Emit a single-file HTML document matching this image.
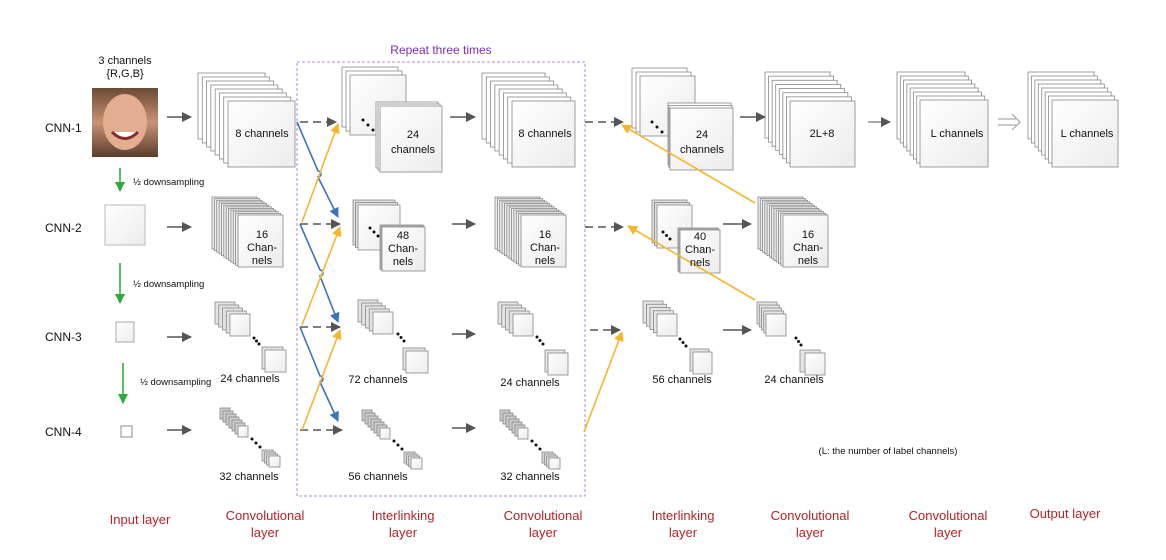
<!DOCTYPE html>
<html><head><meta charset="utf-8"><style>
body{margin:0;background:#fff}
svg{display:block}
text{font-family:"Liberation Sans",sans-serif;fill:#111}
.s{font-size:11px}
.r{fill:#b4232a;font-size:13px}
</style></head><body>
<svg id="v" width="1166" height="560" viewBox="0 0 1166 560" xmlns="http://www.w3.org/2000/svg">
<defs>
<linearGradient id="g" x1="0" y1="0" x2="1" y2="1"><stop offset="0" stop-color="#fff"/><stop offset="1" stop-color="#ececec"/></linearGradient>
<linearGradient id="face" x1="0" y1="0" x2="0" y2="1"><stop offset="0" stop-color="#6b4a34"/><stop offset="0.5" stop-color="#c89277"/><stop offset="1" stop-color="#5a3d2c"/></linearGradient>
<marker id="ag" markerWidth="10" markerHeight="10" refX="9" refY="5" orient="auto" markerUnits="userSpaceOnUse"><path d="M0,0 L10,5 L0,10 z" fill="#555"/></marker>
<marker id="ab" markerWidth="10" markerHeight="10" refX="9" refY="5" orient="auto" markerUnits="userSpaceOnUse"><path d="M0,0 L10,5 L0,10 z" fill="#3a74c0"/></marker>
<marker id="ao" markerWidth="10" markerHeight="10" refX="9" refY="5" orient="auto" markerUnits="userSpaceOnUse"><path d="M0,0 L10,5 L0,10 z" fill="#f7b52b"/></marker>
<marker id="agr" markerWidth="10" markerHeight="10" refX="9" refY="5" orient="auto" markerUnits="userSpaceOnUse"><path d="M0,0 L10,5 L0,10 z" fill="#2eab3a"/></marker>
</defs>
<g id="stacks"></g>

<rect x="92" y="88" width="66" height="69" fill="url(#face)"/>
<ellipse cx="125" cy="122" rx="22" ry="28" fill="#e3ad92"/>
<path d="M112,132 Q125,145 138,132" stroke="#8a2a2a" stroke-width="3" fill="#fff"/>
<text x="125" y="64" class="s" text-anchor="middle">3 channels</text>
<text x="125" y="77" class="s" text-anchor="middle">{R,G,B}</text>

<rect x="105" y="205" width="40" height="40" fill="url(#g)" stroke="#bbb"/>
<rect x="116" y="322" width="18" height="20" fill="url(#g)" stroke="#aaa"/>
<rect x="121" y="426" width="11" height="11" fill="#fff" stroke="#888"/>

<text x="45" y="132" font-size="12">CNN-1</text>
<text x="45" y="232" font-size="12">CNN-2</text>
<text x="45" y="341" font-size="12">CNN-3</text>
<text x="45" y="436" font-size="12">CNN-4</text>

<g stroke="#2eab3a" stroke-width="1.6" marker-end="url(#agr)">
<line x1="120" y1="168" x2="120" y2="191"/>
<line x1="120" y1="263" x2="120" y2="303"/>
<line x1="123" y1="363" x2="123" y2="403"/>
</g>
<text x="133" y="185" font-size="9.5">½ downsampling</text>
<text x="133" y="287" font-size="9.5">½ downsampling</text>
<text x="140" y="385" font-size="9.5">½ downsampling</text>

<rect x="297" y="62" width="288" height="434" fill="none" stroke="#b58ad6" stroke-dasharray="3,2"/>
<text x="441" y="54" font-size="12" text-anchor="middle" style="fill:#7a2fb0">Repeat three times</text>

<g stroke="#555" stroke-width="1.6" fill="none" marker-end="url(#ag)">
<line x1="167" y1="117" x2="191" y2="117"/>
<line x1="167" y1="227" x2="191" y2="227"/>
<line x1="167" y1="337" x2="191" y2="337"/>
<line x1="167" y1="430" x2="191" y2="430"/>
<line x1="450" y1="117" x2="475" y2="117"/>
<line x1="452" y1="224" x2="475" y2="224"/>
<line x1="452" y1="334" x2="475" y2="334"/>
<line x1="452" y1="428" x2="475" y2="428"/>
<line x1="740" y1="117" x2="765" y2="117"/>
<line x1="723" y1="224" x2="751" y2="224"/>
<line x1="723" y1="330" x2="751" y2="330"/>
<line x1="868" y1="122" x2="890" y2="122" stroke-width="1"/>
<g stroke-dasharray="8,5">
<line x1="300" y1="122" x2="336" y2="122"/>
<line x1="300" y1="224" x2="340" y2="224"/>
<line x1="300" y1="327" x2="340" y2="327"/>
<line x1="300" y1="430" x2="342" y2="430"/>
<line x1="585" y1="122" x2="623" y2="122"/>
<line x1="585" y1="227" x2="623" y2="227"/>
<line x1="590" y1="330" x2="620" y2="330"/>
</g>
</g>
<path d="M998,119 H1016 M998,125 H1016 M1012,114 L1020,122 L1012,130" stroke="#999" fill="none"/>

<g stroke="#3a74c0" stroke-width="1.6" fill="none" marker-end="url(#ab)">
<path d="M297,122 L318,171 a3,3 0 0 1 0,6 L338,217"/>
<path d="M300,224 L320,270 a3,3 0 0 1 0,6 L338,322"/>
<path d="M300,327 L320,376 a3,3 0 0 1 0,6 L338,421"/>
</g>
<g stroke="#f7b52b" stroke-width="1.6" fill="none" marker-end="url(#ao)">
<line x1="302" y1="222" x2="338" y2="124"/>
<line x1="302" y1="325" x2="340" y2="227"/>
<line x1="302" y1="430" x2="340" y2="330"/>
<line x1="584" y1="432" x2="622" y2="332"/>
<line x1="755" y1="300" x2="628" y2="226"/>
<line x1="755" y1="203" x2="622" y2="125"/>
</g>

<g class="s" text-anchor="middle">
<text x="262" y="137">8 channels</text>
<text x="413" y="138">24</text><text x="413" y="153">channels</text>
<text x="545" y="137">8 channels</text>
<text x="702" y="138">24</text><text x="702" y="153">channels</text>
<text x="822" y="137">2L+8</text>
<text x="957" y="137">L channels</text>
<text x="1087" y="137">L channels</text>
<text x="262" y="238">16</text><text x="262" y="251">Chan-</text><text x="262" y="264">nels</text>
<text x="403" y="239">48</text><text x="403" y="252">Chan-</text><text x="403" y="265">nels</text>
<text x="545" y="238">16</text><text x="545" y="251">Chan-</text><text x="545" y="264">nels</text>
<text x="700" y="240">40</text><text x="700" y="253">Chan-</text><text x="700" y="266">nels</text>
<text x="808" y="238">16</text><text x="808" y="251">Chan-</text><text x="808" y="264">nels</text>
<text x="250" y="382">24 channels</text>
<text x="378" y="383">72 channels</text>
<text x="530" y="386">24 channels</text>
<text x="682" y="383">56 channels</text>
<text x="794" y="383">24 channels</text>
<text x="249" y="480">32 channels</text>
<text x="378" y="480">56 channels</text>
<text x="530" y="480">32 channels</text>
<text x="888" y="454" font-size="9.5">(L: the number of label channels)</text>
</g>
<g text-anchor="middle">
<text x="140" y="524" class="r">Input layer</text>
<text x="265" y="520" class="r">Convolutional</text><text x="265" y="537" class="r">layer</text>
<text x="403" y="520" class="r">Interlinking</text><text x="403" y="537" class="r">layer</text>
<text x="543" y="520" class="r">Convolutional</text><text x="543" y="537" class="r">layer</text>
<text x="683" y="520" class="r">Interlinking</text><text x="683" y="537" class="r">layer</text>
<text x="810" y="520" class="r">Convolutional</text><text x="810" y="537" class="r">layer</text>
<text x="948" y="520" class="r">Convolutional</text><text x="948" y="537" class="r">layer</text>
<text x="1065" y="518" class="r">Output layer</text>
</g>
</svg>
<script>
var NS="http://www.w3.org/2000/svg",G=document.getElementById("stacks");
function R(x,y,w,h,f,s){var r=document.createElementNS(NS,"rect");r.setAttribute("x",x);r.setAttribute("y",y);r.setAttribute("width",w);r.setAttribute("height",h);r.setAttribute("fill",f||"url(#g)");r.setAttribute("stroke",s||"#888");r.setAttribute("stroke-width","0.8");G.appendChild(r);}
function D(x,y,r){var c=document.createElementNS(NS,"circle");c.setAttribute("cx",x);c.setAttribute("cy",y);c.setAttribute("r",r||1.5);c.setAttribute("fill","#111");G.appendChild(c);}
function S(x0,y0,x1,y1,w,h,n,f){for(var i=0;i<n;i++){var t=n>1?i/(n-1):1;R(x0+(x1-x0)*t,y0+(y1-y0)*t,w,h,i==n-1?"url(#g)":(f||"#fff"));}}
function dots(x0,y0,x1,y1){for(var i=0;i<3;i++){D(x0+(x1-x0)*i/2,y0+(y1-y0)*i/2);}}
S(198,73,228,101,67,66,8);
S(342,67,350,75,56,60,3); S(376,102,380,106,62,66,3); dots(363,120,373,130);
S(482,73,512,101,63,66,8);
S(632,68,640,76,55,60,3); S(668,103,670,108,63,62,3); dots(652,122,662,132);
S(765,72,790,101,65,66,8);
S(897,72,920,100,68,67,8);
S(1028,72,1052,100,66,67,8);
S(212,197,238,215,45,52,12,"#eee");
S(353,200,358,205,42,45,3,"#ddd"); S(380,225,382,227,43,44,3); dots(370,228,378,236);
S(495,197,521,215,45,52,12,"#eee");
S(652,200,657,205,35,43,3,"#ddd"); S(678,228,680,230,40,43,3); dots(663,232,670,239);
S(758,197,783,215,45,52,12,"#eee");
S(215,302,230,314,20,22,5,"#e4e4e4"); dots(254,338,259,344); S(262,347,265,350,21,22,2,"#e4e4e4");
S(358,300,373,312,20,22,5,"#e4e4e4"); dots(398,334,404,341); S(403,348,406,351,22,22,2,"#e4e4e4");
S(498,302,513,314,20,22,5,"#e4e4e4"); dots(537,337,543,344); S(545,350,548,353,20,22,2,"#e4e4e4");
S(643,301,657,314,20,22,5,"#e4e4e4"); dots(680,339,686,346); S(690,349,693,352,19,22,2,"#e4e4e4");
S(757,302,766,314,20,22,5,"#e4e4e4"); dots(796,338,801,345); S(800,350,805,353,20,22,2,"#e4e4e4");
function diag(x,y){S(x,y,x+18,y+18,10,11,7,"#ccc");dots(x+32,y+31,x+40,y+39);S(x+42,y+42,x+49,y+48,11,11,4,"#ddd");}
diag(220,408); diag(362,410); diag(500,410);
</script>
</body></html>
